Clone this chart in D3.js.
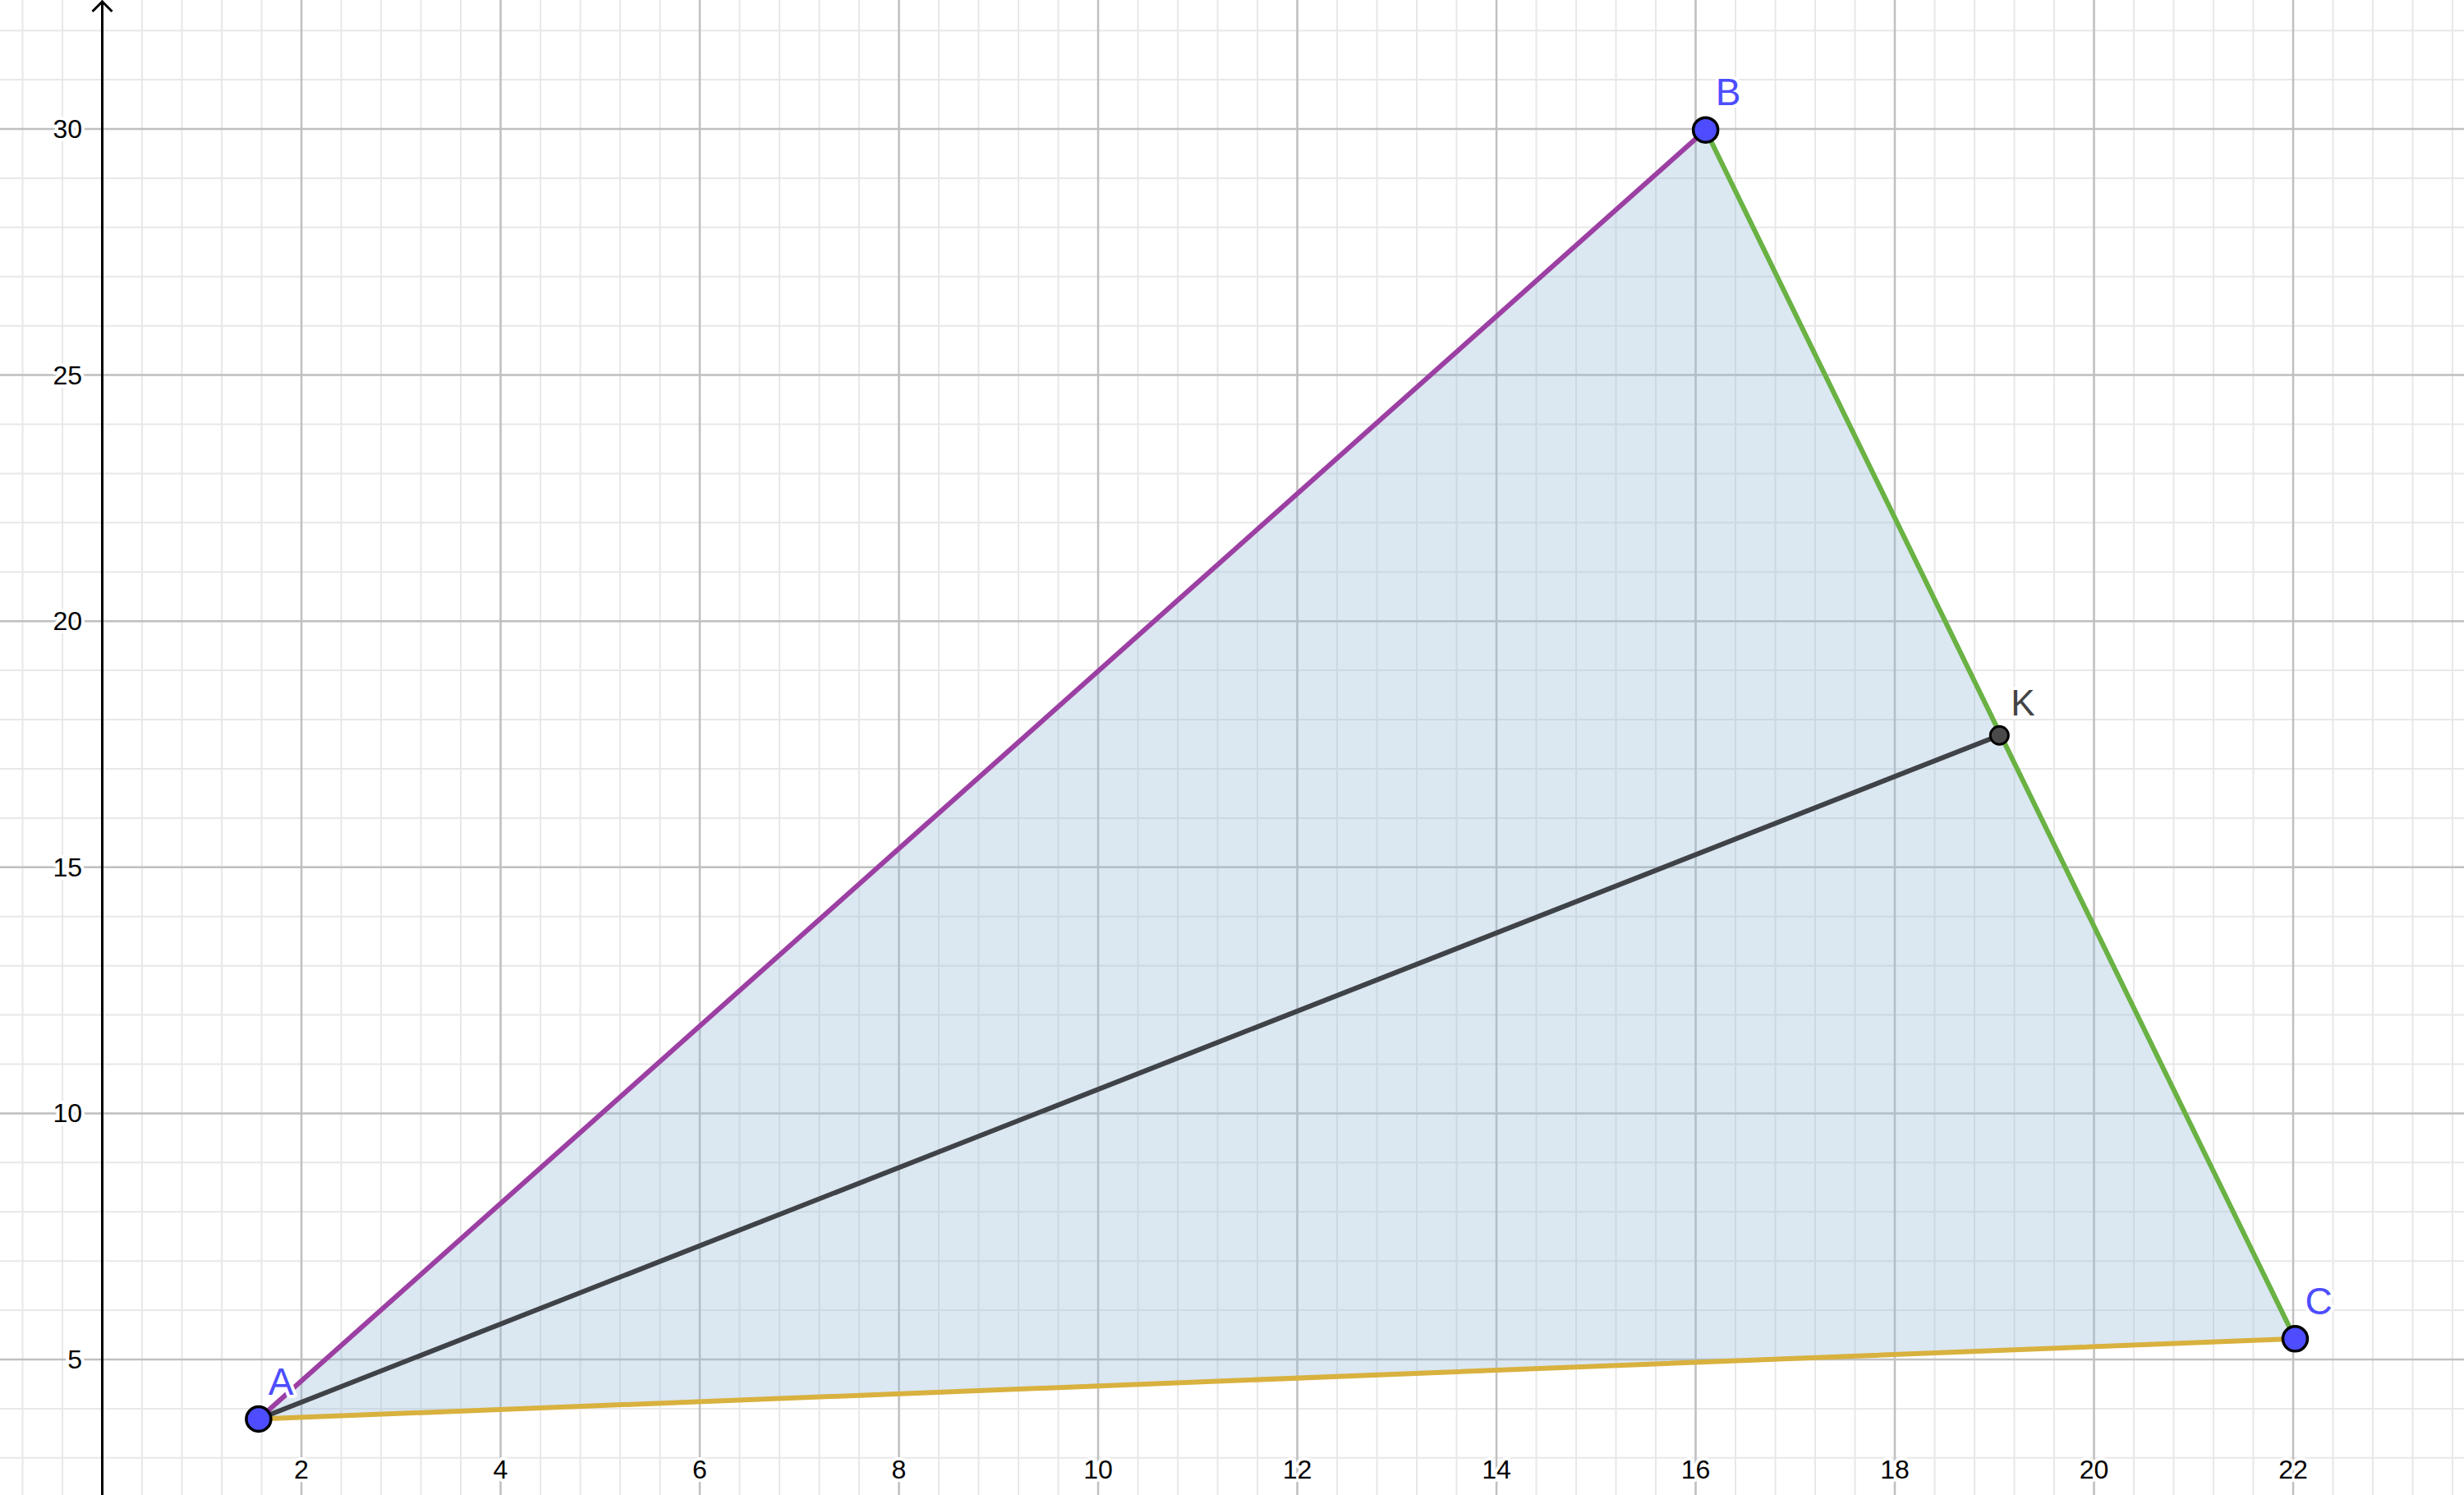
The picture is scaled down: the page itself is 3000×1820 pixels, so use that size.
<!DOCTYPE html>
<html><head><meta charset="utf-8">
<script src="https://cdn.jsdelivr.net/npm/d3@7"></script>
<style>body{margin:0;background:#fff}svg{display:block;font-family:"Liberation Sans",Arial,sans-serif}</style>
</head><body>
<svg id="viz" width="3000" height="1820"></svg>
<script>
// triangle vertices and the point K on BC
var points = [
  {name: "A", x: 1.57, y: 3.79},
  {name: "B", x: 16.1, y: 29.98},
  {name: "C", x: 22.02, y: 5.42}
];
var pointK = {name: "K", x: 19.05, y: 17.68};
var segments = [
  {from: "A", to: "B", color: "#9c3fa3"},
  {from: "B", to: "C", color: "#69b243"},
  {from: "C", to: "A", color: "#d8b13e"}
];
var xTicks = [2, 4, 6, 8, 10, 12, 14, 16, 18, 20, 22];
var yTicks = [5, 10, 15, 20, 25, 30];

var W = 3000, H = 1820;
var svg = d3.select("#viz");
var x = d3.scaleLinear().domain([2, 22]).range([367, 2792]);
var y = d3.scaleLinear().domain([5, 30]).range([1655, 157]);
var x0 = x.invert(0), x1 = x.invert(W), y0 = y.invert(H), y1 = y.invert(0);

// minor grid
var g = svg.append("g");
d3.range(Math.ceil(x0 / 0.4), Math.floor(x1 / 0.4) + 1).forEach(function (i) {
  var v = i * 0.4;
  g.append("line").attr("x1", x(v)).attr("x2", x(v)).attr("y1", 0).attr("y2", H)
    .attr("stroke", "#e8e8e8").attr("stroke-width", 2);
});
d3.range(Math.ceil(y0), Math.floor(y1) + 1).forEach(function (v) {
  g.append("line").attr("y1", y(v)).attr("y2", y(v)).attr("x1", 0).attr("x2", W)
    .attr("stroke", "#e8e8e8").attr("stroke-width", 2);
});
// major grid
d3.range(Math.ceil(x0 / 2), Math.floor(x1 / 2) + 1).forEach(function (i) {
  var v = i * 2;
  g.append("line").attr("x1", x(v)).attr("x2", x(v)).attr("y1", 0).attr("y2", H)
    .attr("stroke", "#c0c0c0").attr("stroke-width", 2.5);
});
d3.range(Math.ceil(y0 / 5), Math.floor(y1 / 5) + 1).forEach(function (i) {
  var v = i * 5;
  g.append("line").attr("y1", y(v)).attr("y2", y(v)).attr("x1", 0).attr("x2", W)
    .attr("stroke", "#c0c0c0").attr("stroke-width", 2.5);
});

// y axis with arrow
svg.append("line").attr("x1", x(0)).attr("x2", x(0)).attr("y1", 2).attr("y2", H)
  .attr("stroke", "#000").attr("stroke-width", 3);
svg.append("path").attr("d", "M" + (x(0) - 12) + ",14 L" + x(0) + ",2 L" + (x(0) + 12) + ",14")
  .attr("fill", "none").attr("stroke", "#000").attr("stroke-width", 3);

function halo(sel) {
  return sel.attr("stroke", "#fff").attr("stroke-width", 8).attr("paint-order", "stroke")
    .attr("stroke-linejoin", "round");
}
xTicks.forEach(function (v) {
  halo(svg.append("text").attr("x", x(v)).attr("y", 1800).attr("text-anchor", "middle")
    .attr("font-size", 32).attr("fill", "#000").text(v));
});
yTicks.forEach(function (v) {
  halo(svg.append("text").attr("x", 100).attr("y", y(v) + 11).attr("text-anchor", "end")
    .attr("font-size", 32).attr("fill", "#000").text(v));
});

var byName = {};
points.forEach(function (p) { byName[p.name] = p; });

// polygon fill
svg.append("polygon")
  .attr("points", points.map(function (p) { return x(p.x) + "," + y(p.y); }).join(" "))
  .attr("fill", "#99bbd6").attr("fill-opacity", 0.35);

segments.forEach(function (s) {
  var a = byName[s.from], b = byName[s.to];
  svg.append("line").attr("x1", x(a.x)).attr("y1", y(a.y)).attr("x2", x(b.x)).attr("y2", y(b.y))
    .attr("stroke", s.color).attr("stroke-width", 6).attr("stroke-linecap", "round");
});
var A = byName.A;
svg.append("line").attr("x1", x(A.x)).attr("y1", y(A.y)).attr("x2", x(pointK.x)).attr("y2", y(pointK.y))
  .attr("stroke", "#3f4347").attr("stroke-width", 6).attr("stroke-linecap", "round");

// points
svg.append("circle").attr("cx", x(pointK.x)).attr("cy", y(pointK.y)).attr("r", 11)
  .attr("fill", "#4a4a4a").attr("stroke", "#000").attr("stroke-width", 3);
halo(svg.append("text").attr("x", x(pointK.x) + 14).attr("y", y(pointK.y) - 24)
  .attr("font-size", 44).attr("fill", "#444").text(pointK.name));
points.forEach(function (p) {
  svg.append("circle").attr("cx", x(p.x)).attr("cy", y(p.y)).attr("r", 15)
    .attr("fill", "#4d4dff").attr("stroke", "#000").attr("stroke-width", 3.5);
  halo(svg.append("text").attr("x", x(p.x) + 12).attr("y", y(p.y) - 30)
    .attr("font-size", 46).attr("fill", "#4d4dff").text(p.name));
});
</script>
</body></html>
